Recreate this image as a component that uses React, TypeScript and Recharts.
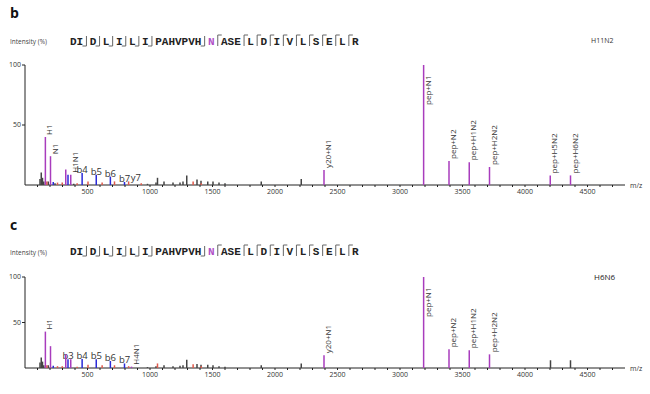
import { ScatterChart, Scatter, XAxis, YAxis } from 'recharts';

type Peak = { mz: number; int: number; label?: string };

// ---- panel b (H11N2) ----
const bGlycan: Peak[] = [
  { mz: 163, int: 40, label: 'H1' },
  { mz: 204, int: 24, label: 'N1' },
  { mz: 326, int: 13 },
  { mz: 366, int: 8.5, label: 'H1N1' },
  { mz: 2392, int: 12.5, label: 'y20+N1' },
  { mz: 3189, int: 100, label: 'pep+N1' },
  { mz: 3392, int: 20, label: 'pep+N2' },
  { mz: 3554, int: 19, label: 'pep+H1N2' },
  { mz: 3716, int: 15, label: 'pep+H2N2' },
  { mz: 4202, int: 8, label: 'pep+H5N2' },
  { mz: 4364, int: 8, label: 'pep+H6N2' },
];
const bBIons: Peak[] = [
  { mz: 226, int: 2.5 },
  { mz: 344, int: 8.5 },
  { mz: 457, int: 10, label: 'b4' },
  { mz: 570, int: 8.5, label: 'b5' },
  { mz: 683, int: 7, label: 'b6' },
  { mz: 796, int: 2.5, label: 'b7' },
];
const bYIons: Peak[] = [
  { mz: 175, int: 3 },
  { mz: 260, int: 2 },
  { mz: 298, int: 2 },
  { mz: 417, int: 1.5 },
  { mz: 504, int: 3 },
  { mz: 617, int: 2 },
  { mz: 716, int: 3 },
  { mz: 829, int: 3, label: 'y7' },
  { mz: 930, int: 1.5 },
  { mz: 1345, int: 3 },
  { mz: 1410, int: 1.5 },
];
const bOther: Peak[] = [
  { mz: 120, int: 5 },
  { mz: 130, int: 10.5 },
  { mz: 140, int: 6 },
  { mz: 150, int: 3 },
  { mz: 186, int: 3 },
  { mz: 240, int: 1.5 },
  { mz: 390, int: 1 },
  { mz: 980, int: 1 },
  { mz: 1048, int: 2 },
  { mz: 1060, int: 6 },
  { mz: 1112, int: 3 },
  { mz: 1184, int: 2 },
  { mz: 1240, int: 2 },
  { mz: 1264, int: 3 },
  { mz: 1294, int: 8 },
  { mz: 1376, int: 4.5 },
  { mz: 1408, int: 3.5 },
  { mz: 1462, int: 3 },
  { mz: 1504, int: 3 },
  { mz: 1552, int: 2 },
  { mz: 1600, int: 1.5 },
  { mz: 1890, int: 3 },
  { mz: 2210, int: 5 },
];

// ---- panel c (H6N6) ----
const cGlycan: Peak[] = [
  { mz: 163, int: 40, label: 'H1' },
  { mz: 204, int: 24 },
  { mz: 326, int: 15 },
  { mz: 366, int: 9.5 },
  { mz: 852, int: 1.5, label: 'H4N1' },
  { mz: 2392, int: 14, label: 'y20+N1' },
  { mz: 3189, int: 100, label: 'pep+N1' },
  { mz: 3392, int: 20.5, label: 'pep+N2' },
  { mz: 3554, int: 19.5, label: 'pep+H1N2' },
  { mz: 3716, int: 15, label: 'pep+H2N2' },
];
const cBIons: Peak[] = [
  { mz: 226, int: 2.5 },
  { mz: 344, int: 9.5, label: 'b3' },
  { mz: 457, int: 10, label: 'b4' },
  { mz: 570, int: 9.5, label: 'b5' },
  { mz: 683, int: 7.7, label: 'b6' },
  { mz: 796, int: 5, label: 'b7' },
];
const cYIons: Peak[] = [
  { mz: 175, int: 3 },
  { mz: 260, int: 2 },
  { mz: 298, int: 2 },
  { mz: 417, int: 1.5 },
  { mz: 504, int: 3.5 },
  { mz: 617, int: 3 },
  { mz: 716, int: 3 },
  { mz: 829, int: 2 },
  { mz: 1060, int: 5 },
  { mz: 1345, int: 4 },
  { mz: 1410, int: 2 },
];
const cOther: Peak[] = [
  { mz: 120, int: 6 },
  { mz: 130, int: 11.5 },
  { mz: 140, int: 7 },
  { mz: 150, int: 3 },
  { mz: 186, int: 3 },
  { mz: 980, int: 1 },
  { mz: 1048, int: 2 },
  { mz: 1112, int: 3 },
  { mz: 1184, int: 2 },
  { mz: 1240, int: 2.5 },
  { mz: 1264, int: 3 },
  { mz: 1294, int: 9 },
  { mz: 1376, int: 4.5 },
  { mz: 1408, int: 3.5 },
  { mz: 1462, int: 3.5 },
  { mz: 1504, int: 3 },
  { mz: 1552, int: 2 },
  { mz: 1600, int: 1.5 },
  { mz: 1890, int: 3 },
  { mz: 2210, int: 5 },
  { mz: 4204, int: 8.5 },
  { mz: 4364, int: 8.5 },
];

const sequence = ['DI', 'D', 'L', 'I', 'L', 'I', 'PAHVPVH', 'N', 'ASE', 'L', 'D', 'I', 'V', 'L', 'S', 'E', 'L', 'R'];
const glycoSite = 'N';
const xTicks = Array.from({ length: 47 }, (_, i) => (i + 1) * 100);
const yTicks = [50, 100];

const PURPLE = '#a83cbd';
const BLUE = '#2a2ad8';
const RED = '#e05a4c';
const DARK = '#444';
const FONT = '"Open Sans", "Liberation Sans", sans-serif';

function makeStick(color: string, base: number, kind: 'vertical' | 'horizontal' | 'side') {
  return (p: any) => {
    const { cx, cy, payload } = p;
    if (cx == null || cy == null) return <g />;
    const label = payload?.label;
    let text = null;
    if (label && kind === 'vertical') {
      const ay = payload.int > 85 ? cy + 40 : cy - 2;
      text = (
        <text transform={`translate(${cx + 7},${ay}) rotate(-90)`} fontSize={8} fill="#333" fontFamily={FONT}>
          {label}
        </text>
      );
    } else if (label) {
      text = (
        <text
          x={kind === 'side' ? cx + 2 : cx}
          y={cy}
          textAnchor={kind === 'side' ? 'start' : 'middle'}
          fontSize={9.5}
          fill="#333"
          fontFamily={FONT}
        >
          {label}
        </text>
      );
    }
    return (
      <g>
        <line x1={cx} x2={cx} y1={cy} y2={base} stroke={color} strokeWidth={1.5} />
        {text}
      </g>
    );
  };
}

const XTick = (p: any) => {
  const v = p.payload?.value;
  if (v % 500 !== 0) return <g />;
  return (
    <text x={p.x} y={p.y} dy="0.71em" textAnchor="middle" fontSize={7} fill="#333" fontFamily={FONT}>
      {v}
    </text>
  );
};

function Spectrum(props: {
  top: number;
  plotH: number;
  glycan: Peak[];
  bions: Peak[];
  yions: Peak[];
  other: Peak[];
}) {
  const mTop = 10;
  const base = mTop + props.plotH;
  const height = mTop + props.plotH + 20;
  return (
    <div style={{ position: 'absolute', left: 0, top: props.top }}>
      <ScatterChart width={650} height={height} margin={{ top: mTop, right: 25, left: 0, bottom: 0 }}>
        <XAxis
          type="number"
          dataKey="mz"
          domain={[0, 4800]}
          ticks={xTicks}
          interval={0}
          tick={<XTick />}
          tickSize={2}
          tickMargin={2}
          height={20}
          axisLine={{ stroke: '#222' }}
          tickLine={{ stroke: '#222' }}
          allowDataOverflow
        />
        <YAxis
          type="number"
          dataKey="int"
          domain={[0, 100]}
          ticks={yTicks}
          width={25}
          tickSize={3}
          tickMargin={1}
          tick={{ fontSize: 7, fill: '#333', fontFamily: FONT }}
          axisLine={{ stroke: '#222' }}
          tickLine={{ stroke: '#222' }}
          allowDataOverflow
        />
        <Scatter data={props.other} shape={makeStick(DARK, base, 'horizontal')} isAnimationActive={false} />
        <Scatter data={props.yions} shape={makeStick(RED, base, 'side')} isAnimationActive={false} />
        <Scatter data={props.bions} shape={makeStick(BLUE, base, 'horizontal')} isAnimationActive={false} />
        <Scatter data={props.glycan} shape={makeStick(PURPLE, base, 'vertical')} isAnimationActive={false} />
      </ScatterChart>
    </div>
  );
}

function SequenceHeader({ x0, base }: { x0: number; base: number }) {
  const cw = 6.6;
  const gap = 6.5;
  const items: any[] = [];
  let x = x0;
  sequence.forEach((seg, i) => {
    items.push(
      <text
        key={'t' + i}
        x={x}
        y={base}
        fontSize={11}
        fontWeight="bold"
        fontFamily='"Liberation Mono", "DejaVu Sans Mono", monospace'
        fill={seg === glycoSite ? '#b04fc6' : '#222'}
      >
        {seg}
      </text>
    );
    x += seg.length * cw;
    if (i < sequence.length - 1) {
      const gx = x + gap / 2;
      const nIdx = sequence.indexOf(glycoSite);
      if (i < nIdx) {
        items.push(
          <path key={'m' + i} d={`M${gx},${base - 9} L${gx},${base + 1} L${gx - 4},${base + 1}`} stroke="#666" fill="none" />
        );
      } else {
        items.push(
          <path key={'m' + i} d={`M${gx},${base + 1} L${gx},${base - 10} L${gx + 4},${base - 10}`} stroke="#666" fill="none" />
        );
      }
      x += gap;
    }
  });
  return <g>{items}</g>;
}

export default function App() {
  return (
    <div style={{ position: 'absolute', left: 0, top: 0, width: 650, height: 394, background: '#fff', overflow: 'hidden' }}>
      <Spectrum top={55} plotH={120} glycan={bGlycan} bions={bBIons} yions={bYIons} other={bOther} />
      <Spectrum top={267} plotH={91} glycan={cGlycan} bions={cBIons} yions={cYIons} other={cOther} />
      <svg width={650} height={394} style={{ position: 'absolute', left: 0, top: 0, pointerEvents: 'none' }}>
        <text x={10} y={18} fontSize={14} fontWeight="bold" fontFamily={FONT} fill="#111">b</text>
        <text x={10} y={44} fontSize={6.5} fontFamily={FONT} fill="#444">Intensity (%)</text>
        <SequenceHeader x0={70} base={45} />
        <text x={591} y={43} fontSize={7} fontFamily={FONT} fill="#333">H11N2</text>
        <text x={630} y={188} fontSize={7} fontFamily={FONT} fill="#333">m/z</text>

        <text x={10} y={230} fontSize={14} fontWeight="bold" fontFamily={FONT} fill="#111">c</text>
        <text x={10} y={255} fontSize={6.5} fontFamily={FONT} fill="#444">Intensity (%)</text>
        <SequenceHeader x0={70} base={255} />
        <text x={594} y={280} fontSize={8} fontFamily={FONT} fill="#222">H6N6</text>
        <text x={630} y={371} fontSize={7} fontFamily={FONT} fill="#333">m/z</text>
      </svg>
    </div>
  );
}
